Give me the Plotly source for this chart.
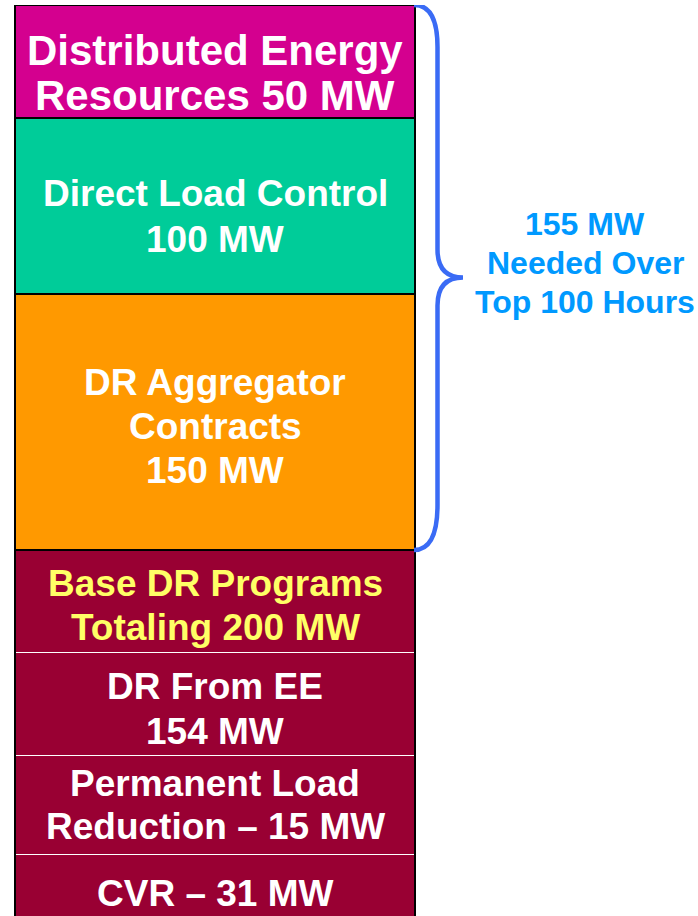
import plotly.graph_objects as go

# Segments listed bottom to top
segments = ["CVR", "Permanent Load Reduction", "DR From EE", "Base DR Programs",
            "DR Aggregator Contracts", "Direct Load Control", "Distributed Energy Resources"]
mw_values = [31, 15, 154, 200, 150, 100, 50]
# visual block heights (the graphic is not drawn to scale)
display_heights = [76, 99, 103, 103, 256, 176, 113]
labels = [["CVR – 31 MW"],
          ["Permanent Load", "Reduction – 15 MW"],
          ["DR From EE", "154 MW"],
          ["Base DR Programs", "Totaling 200 MW"],
          ["DR Aggregator", "Contracts", "150 MW"],
          ["Direct Load Control", "100 MW"],
          ["Distributed Energy", "Resources 50 MW"]]
fill_colors = ["#990033", "#990033", "#990033", "#990033", "#FF9900", "#00CC99", "#D4008F"]
text_colors = ["white", "white", "white", "#FFFF66", "white", "white", "white"]
text_sizes = [37, 37, 37, 37, 37, 37, 42]
line_gap = [44, 43, 45, 44, 44, 46, 45]
text_offset = [0, -1, 4, 3.5, 4, 10, 11]
brace_lines = ["155 MW", "Needed Over", "Top 100 Hours"]
needed_segments = 3  # top three blocks are bracketed

FONT = "Arial, Liberation Sans, sans-serif"
cat = "Stack"

fig = go.Figure()
cum = []
base = 0
for i, name in enumerate(segments):
    maroon = fill_colors[i] == "#990033"
    fig.add_trace(go.Bar(
        x=[cat], y=[display_heights[i]], name=name,
        marker=dict(color=fill_colors[i],
                    line=dict(color="white" if maroon else "black", width=1.5 if maroon else 2)),
        hoverinfo="skip", showlegend=False,
    ))
    cum.append((base, base + display_heights[i]))
    base += display_heights[i]

total = base
y_bottom_visible = 15

for i, (lo, hi) in enumerate(cum):
    n = len(labels[i])
    for k, line in enumerate(labels[i]):
        off = text_offset[i] + (k - (n - 1) / 2) * line_gap[i]
        fig.add_annotation(
            x=cat, y=(lo + hi) / 2, xref="x", yref="y", text=line, showarrow=False,
            xanchor="center", yanchor="middle",
            font=dict(family=FONT, size=text_sizes[i], color=text_colors[i], weight="bold"),
            yshift=-off,
        )

# outer black outline of the whole stack
fig.add_shape(type="rect", xref="x domain", yref="y", x0=0, x1=1, y0=0, y1=total,
              line=dict(color="black", width=2), fillcolor="rgba(0,0,0,0)", layer="above")

# brace over top three segments
ytop = total
ybot = cum[len(segments) - needed_segments][0]
ymid = (ytop + ybot) / 2
xa, xb, xc = 414 / 698, 437.5 / 698, 463 / 698
path = (f"M {xa},{ytop} Q {xb},{ytop} {xb},{ytop - 42} "
        f"L {xb},{ymid + 28} Q {xb},{ymid} {xc},{ymid} "
        f"Q {xb},{ymid} {xb},{ymid - 28} "
        f"L {xb},{ybot + 45} Q {xb},{ybot} {xa},{ybot}")
fig.add_shape(type="path", xref="paper", yref="y", path=path,
              line=dict(color="#3A6BF5", width=4.5), layer="above")

nb = len(brace_lines)
for k, line in enumerate(brace_lines):
    off = -15 + (k - (nb - 1) / 2) * 39
    fig.add_annotation(x=585 / 698, y=ymid, xref="paper", yref="y", text=line,
                       showarrow=False, xanchor="center", yanchor="middle", yshift=-off,
                       font=dict(family=FONT, size=32, color="#0099FF", weight="bold"))

fig.update_layout(
    width=698, height=916, barmode="stack", bargap=0,
    margin=dict(l=0, r=0, t=5, b=0),
    paper_bgcolor="white", plot_bgcolor="white",
    xaxis=dict(domain=[15 / 698, 415 / 698], visible=False),
    yaxis=dict(range=[y_bottom_visible, total], visible=False),
)

fig.write_html("out.html", config={"displayModeBar": False},
               post_script="document.body.style.margin='0';")
